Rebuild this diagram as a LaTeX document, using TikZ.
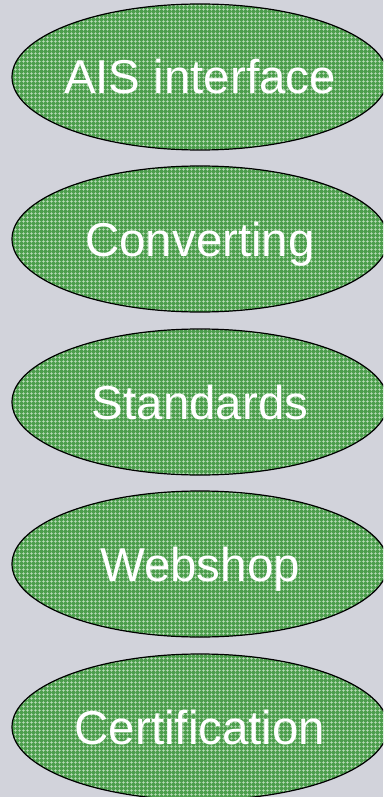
\documentclass[tikz,border=0pt]{standalone}
\usepackage{fontspec}
\setmainfont{Liberation Sans}
\usetikzlibrary{shapes.geometric,patterns.meta}
\definecolor{bg}{RGB}{210,211,219}
\definecolor{ovalgreen}{RGB}{76,158,76}
\definecolor{gridlight}{RGB}{196,226,196}
\tikzset{
  oval/.style={ellipse, draw=black, line width=1.2pt, inner sep=0pt,
    minimum width=376pt, minimum height=146pt,
    preaction={fill=ovalgreen},
    preaction={pattern={Hatch[angle=0,distance=4pt,line width=0.7pt]}, pattern color=gridlight},
    text=white, font=\fontsize{47.5}{50}\selectfont,
    text height=34pt, text depth=0pt}
}
\begin{document}
\begin{tikzpicture}[x=1pt,y=-1pt]
\fill[bg] (0,0) rectangle (383,797);
\useasboundingbox (0,0) rectangle (383,797);
\clip (0,0) rectangle (383,797);
\node[oval] (ais) at (200,77) {\makebox[0pt]{AIS interface}};
\node[oval] (conv) at (200,239) {\makebox[0pt]{Converting}};
\node[oval] (std) at (200,402) {\makebox[0pt]{Standards}};
\node[oval] (web) at (200,564) {\makebox[0pt]{Webshop}};
\node[oval] (cert) at (200,727) {\makebox[0pt]{Certification}};
\end{tikzpicture}
\end{document}
